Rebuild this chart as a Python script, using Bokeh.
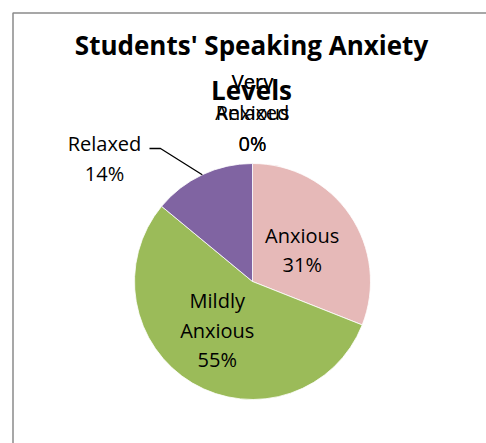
import math
from bokeh.plotting import figure
from bokeh.models import Range1d
from bokeh.core.properties import value
from bokeh.embed import file_html
from bokeh.resources import INLINE

# ---- data ----
categories = ["Very Anxious", "Anxious", "Mildly Anxious", "Relaxed", "Very Relaxed"]
label_lines = [["Very", "Anxious"], ["Anxious"], ["Mildly", "Anxious"], ["Relaxed"], ["Very", "Relaxed"]]
percents = [0, 31, 55, 14, 0]
colors = ["#4F81BD", "#E6B9B8", "#9BBB59", "#8064A2", "#4BACC6"]
title_lines = ["Students' Speaking Anxiety", "Levels"]

# ---- layout (page pixels) ----
W, H = 486, 443
def X(px): return px
def Y(py): return H - py

cx, cy, R = 252, 281, 118
FONT = "Open Sans"
nudge = {"Anxious": (-1, 3), "Mildly Anxious": (-4, -4)}

p = figure(width=W, height=H, output_backend="svg", toolbar_location=None,
           x_axis_type=None, y_axis_type=None, min_border=0,
           x_range=Range1d(0, W), y_range=Range1d(0, H))
p.grid.visible = False
p.outline_line_color = None
p.background_fill_color = "white"

# chart frame (left & top visible)
p.line([X(12.5), X(12.5), X(600)], [Y(600), Y(12.5), Y(12.5)], line_color="#8a8a8a", line_width=1.5)

# wedges
total = sum(percents)
cum = 0.0
starts, ends, mids = [], [], []
for v in percents:
    a0 = cum / total * 2 * math.pi
    cum += v
    a1 = cum / total * 2 * math.pi
    starts.append(math.pi / 2 - a0)
    ends.append(math.pi / 2 - a1)
    mids.append((a0 + a1) / 2)

for s, e, v, c in zip(starts, ends, percents, colors):
    if v > 0:
        p.wedge(x=X(cx), y=Y(cy), radius=R, start_angle=s, end_angle=e, direction="clock",
                fill_color=c, line_color="white", line_width=0.8)

def put_lines(lines, x, y_first, step, size="20px", style="normal"):
    for i, t in enumerate(lines):
        p.text(x=[X(x)], y=[Y(y_first + i * step)], text=[t], text_align="center",
               text_baseline="middle", text_font=value(FONT), text_font_size=size,
               text_font_style=style, text_color="black")

# title
put_lines(title_lines, 251, 44, 45, size="26px", style="bold")

LS = 29.5
for i, (lines, v, m) in enumerate(zip(label_lines, percents, mids)):
    txt = lines + [f"{v}%"]
    if v == 0:
        put_lines(txt, cx, 81, 31)
    elif categories[i] == "Relaxed":
        put_lines(txt, 104, 143, 30)
        ex = cx + R * math.sin(m)
        ey = cy - R * math.cos(m)
        p.line([X(149), X(160), X(ex)], [Y(148), Y(148), Y(ey)], line_color="black", line_width=1.3)
    else:
        f = 0.52
        dx, dy = nudge.get(categories[i], (0, 0))
        lx = cx + f * R * math.sin(m) + dx
        ly = cy - f * R * math.cos(m) + dy
        n = len(txt)
        put_lines(txt, lx, ly - (n - 1) * LS / 2, LS)

open("out.html", "w").write(file_html(p, INLINE))
